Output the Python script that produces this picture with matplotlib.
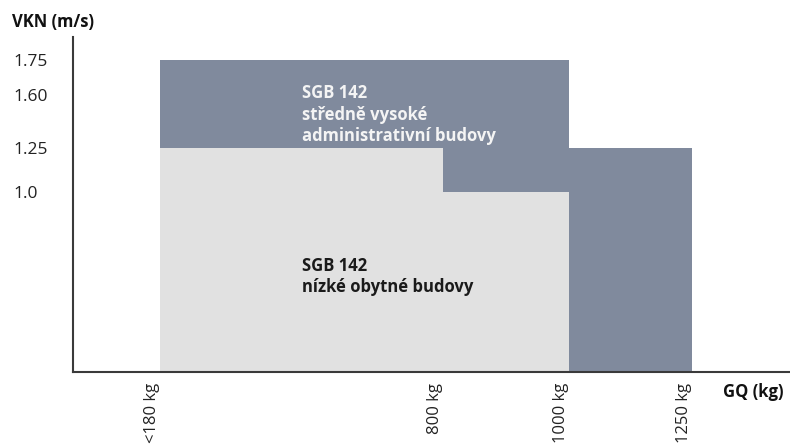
import numpy as np
import matplotlib
matplotlib.use("Agg")
import matplotlib.pyplot as plt

# lift speed classes (m/s) and rated loads (kg)
admin_load_edges = [180, 1000, 1250]
admin_speeds = [1.75, 1.25]
resid_load_edges = [180, 800, 1000]
resid_speeds = [1.25, 1.0]

x_ticks = [180, 800, 1000, 1250]
x_labels = ["<180 kg", "800 kg", "1000 kg", "1250 kg"]
y_ticks = [1.0, 1.25, 1.60, 1.75]
y_labels = ["1.0", "1.25", "1.60", "1.75"]

admin_text = "SGB 142\nstředně vysoké\nadministrativní budovy"
resid_text = "SGB 142\nnízké obytné budovy"

# the original axes are stepped, not linear: anchor values to screen spacing
x_anchor_val = [0, 180, 800, 1000, 1250, 1450]
x_anchor_pos = [0, 87.3, 370.3, 496.3, 619.3, 717.3]
y_anchor_val = [0, 1.0, 1.25, 1.60, 1.75, 1.9]
y_anchor_pos = [0, 180, 224, 277, 312, 335]

DARK = "#808a9d"
LIGHT = "#e1e1e1"

plt.rcParams["font.family"] = ["Open Sans", "DejaVu Sans"]

fig = plt.figure(figsize=(7.9, 4.46), dpi=100)
ax = fig.add_axes([72.7 / 790, 74 / 446, 1 - 72.7 / 790, (372 - 37) / 446])

ax.set_xscale("function", functions=(lambda v: np.interp(v, x_anchor_val, x_anchor_pos),
                                     lambda p: np.interp(p, x_anchor_pos, x_anchor_val)))
ax.set_yscale("function", functions=(lambda v: np.interp(v, y_anchor_val, y_anchor_pos),
                                     lambda p: np.interp(p, y_anchor_pos, y_anchor_val)))
ax.set_xlim(0, 1450)
ax.set_ylim(0, 1.9)

# admin buildings first, residential on top of it
ax.bar(admin_load_edges[:-1], admin_speeds, width=np.diff(admin_load_edges),
       align="edge", color=DARK, linewidth=0)
ax.bar(resid_load_edges[:-1], resid_speeds, width=np.diff(resid_load_edges),
       align="edge", color=LIGHT, linewidth=0)

ax.text(490, 1.47, admin_text, color="#f4f4f4", fontsize=12, fontweight="bold",
        ha="left", va="center", linespacing=1.25)
ax.text(490, 0.53, resid_text, color="#1a1a1a", fontsize=12, fontweight="bold",
        ha="left", va="center", linespacing=1.25)

for side in ["top", "right"]:
    ax.spines[side].set_visible(False)
for side in ["left", "bottom"]:
    ax.spines[side].set_linewidth(1.5)
    ax.spines[side].set_color("#3a3a3a")

ax.set_xticks(x_ticks)
ax.set_xticklabels(x_labels, rotation=90, fontsize=12, color="#222222")
for lbl in ax.get_xticklabels():
    lbl.set_ha("right")
ax.set_yticks(y_ticks)
ax.set_yticklabels(y_labels, fontsize=12.5, color="#222222")
for lbl in ax.get_yticklabels():
    lbl.set_ha("left")
ax.tick_params(axis="x", length=0, pad=8)
ax.tick_params(axis="y", length=0, pad=43)
ax.minorticks_off()

fig.text(12 / 790, 1 - 22 / 446, "VKN (m/s)", fontsize=12, fontweight="bold",
         ha="left", va="center", color="#111111")
fig.text(723 / 790, 1 - 392 / 446, "GQ (kg)", fontsize=12, fontweight="bold",
         ha="left", va="center", color="#111111")

fig.savefig("out.png", dpi=100)
